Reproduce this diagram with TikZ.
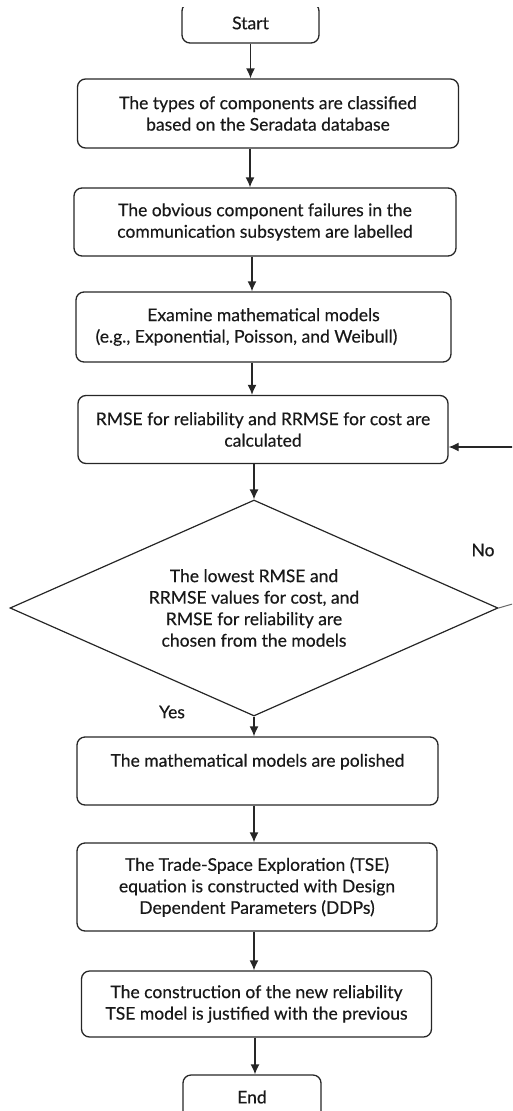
\documentclass[tikz,border=0pt]{standalone}
\usepackage{fontspec}
\setmainfont{Lato}
\newfontfamily\medfont{Lato}[UprightFeatures={FakeBold=0.4}]
\usetikzlibrary{shapes.geometric,arrows.meta}
\newcommand{\mytxt}{\medfont\fontsize{17.5}{21.5}\selectfont}
\tikzset{
  box/.style={draw=black!85, line width=1.3pt, rounded corners=8pt, rectangle, inner sep=0pt, align=center, font=\mytxt, text=black!90},
  dec/.style={draw=black!85, line width=1.2pt, diamond, shape aspect=2.26, inner sep=0pt, align=center, font=\mytxt, text=black!90},
  arr/.style={line width=1.3pt, draw=black!85, -{Latex[length=10pt,width=9pt]}},
  lbl/.style={font=\mytxt, text=black!90, inner sep=0pt}
}
\begin{document}
\begin{tikzpicture}[x=1pt,y=-1pt]
\useasboundingbox (0,0) rectangle (512,1111);
\clip (0,7) rectangle (512,1111);
\node[box, minimum width=137pt, minimum height=40pt] (start) at (250.5,23) {Start};
\node[box, minimum width=381pt, minimum height=69pt] (b1) at (268,113.5) {The types of components are classified\\based on the Seradata database};
\node[box, minimum width=382pt, minimum height=68pt] (b2) at (265,222) {The obvious component failures in the\\communication subsystem are labelled};
\node[box, minimum width=375pt, minimum height=70pt] (b3) at (263.5,327) {Examine mathematical models\\(e.g., Exponential, Poisson, and Weibull)\hspace*{34pt}};
\node[box, minimum width=370pt, minimum height=68pt] (b4) at (263,429.5) {RMSE for reliability and RRMSE for cost are\\calculated};
\node[dec, minimum width=488pt, minimum height=216pt] (dia) at (254,608) {The lowest RMSE and\\RRMSE values for cost, and\\RMSE for reliability are\\chosen from the models};
\node[box, minimum width=361pt, minimum height=68pt] (b5) at (257.5,771) {The mathematical models are polished\\\mbox{}};
\node[box, minimum width=360pt, minimum height=88pt] (b6) at (257,887) {The Trade-Space Exploration (TSE)\\equation is constructed with Design\\Dependent Parameters (DDPs)};
\node[box, minimum width=350pt, minimum height=66pt] (b7) at (256.5,1004) {The construction of the new reliability\\TSE model is justified with the previous};
\node[box, minimum width=138pt, minimum height=44pt] (end) at (252,1097) {End};
\node[lbl] (no) at (483,550) {No};
\node[lbl] (yes) at (172,712) {Yes};
\coordinate (lpA) at (540,596);
\coordinate (lpB) at (540,447);
\draw[arr] (start.south) -- (start.south |- b1.north);
\draw[arr] ([xshift=-18pt]b1.south) -- ([xshift=-15pt]b2.north);
\draw[arr] ([xshift=-13pt]b2.south) -- ([xshift=-11.5pt]b3.north);
\draw[arr] ([xshift=-11.5pt]b3.south) -- ([xshift=-11pt]b4.north);
\draw[arr] (b4.south -| dia.north) -- (dia.north);
\draw[arr] (dia.south) -- (dia.south |- b5.north);
\draw[arr] ([xshift=-3.5pt]b5.south) -- ([xshift=-3pt]b6.north);
\draw[arr] ([xshift=-3pt]b6.south) -- ([xshift=-2.5pt]b7.north);
\draw[arr] ([xshift=-1.5pt]b7.south) -- ([xshift=3pt]end.north);
\draw[line width=1pt, draw=black!60] (dia.east) -- (lpA);
\draw[arr] (lpA) -- (lpB) -- ([yshift=-17.5pt]b4.east);
\end{tikzpicture}
\end{document}
